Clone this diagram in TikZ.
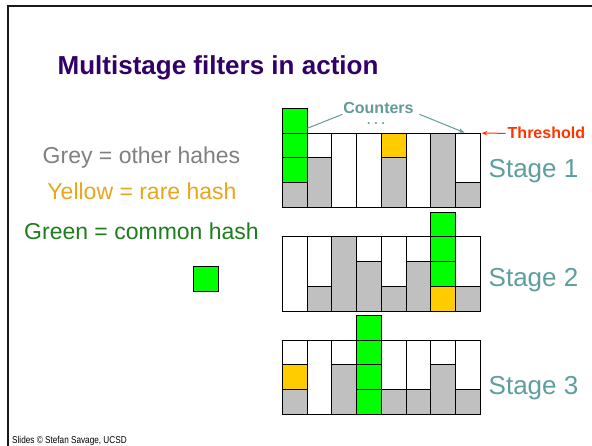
\documentclass[tikz,border=0pt]{standalone}
\usepackage{fontspec}
\setmainfont{Liberation Sans}
\usetikzlibrary{arrows.meta}

\definecolor{gr}{HTML}{C0C0C0}
\definecolor{ye}{HTML}{FFCC00}
\definecolor{gn}{HTML}{00FF00}
\definecolor{titlepurple}{HTML}{330066}
\definecolor{teal}{HTML}{669999}
\definecolor{stageteal}{HTML}{5F9E9E}
\definecolor{greytext}{HTML}{808080}
\definecolor{yellowtext}{HTML}{E9A51C}
\definecolor{greentext}{HTML}{1B7F1B}
\definecolor{thresholdred}{HTML}{FF3300}

% one filter stage: #1 = y of the bottom edge, #2 = column/segment list
% each segment is colour/start level/height, one level = 24.7
\newcommand\drawfilterstage[2]{%
  \foreach \c in {0,...,7}
    \draw[cellline, fill=white] ({282.5+24.7*\c},#1) rectangle ++(24.7,-74.1);
  \foreach \c/\s in {#2}{
    \foreach \k/\b/\h in \s
      \draw[cellline, fill=\k] ({282.5+24.7*\c},{#1-24.7*\b}) rectangle ++(24.7,{-24.7*\h});
  }
}

\begin{document}
\begin{tikzpicture}[x=1pt,y=-1pt,
  cellline/.style={draw=black, line width=0.9pt},
  frameline/.style={line width=2.3pt, draw=black!90},
  legend/.style={font=\fontsize{23}{26}\selectfont, anchor=base},
  stagelabel/.style={font=\fontsize{26}{30}\selectfont, text=stageteal, anchor=base west, inner sep=0pt},
  pointer/.style={draw=teal, line width=1pt}]

\useasboundingbox (0,0) rectangle (592,446);
\fill[white] (0,0) rectangle (592,446);

% slide frame
\draw[frameline] (592,6) -- (8,6) -- (8,446);

% title
\node[anchor=base west, inner sep=0pt, text=titlepurple,
      font=\fontsize{26}{30}\selectfont\bfseries] (title) at (57.5,75) {Multistage filters in action};

% legend
\node[legend, text=greytext]   (greykey)   at (141.5,164)   {Grey = other hahes};
\node[legend, text=yellowtext] (yellowkey) at (142,199.3)   {Yellow = rare hash};
\node[legend, text=greentext]  (greenkey)  at (141.5,239.3) {Green = common hash};
\node[draw=black, line width=0.9pt, fill=gn, minimum width=25pt, minimum height=24.5pt,
      inner sep=0pt] (packet) at (206,279.2) {};

% the three stages of counters
\drawfilterstage{207.3}{0/{gr/0/1,gn/1/1,gn/2/1,gn/3/1},1/{gr/0/2},4/{gr/0/2,ye/2/1},6/{gr/0/3},7/{gr/0/1}}
\drawfilterstage{311}{1/{gr/0/1},2/{gr/0/3},3/{gr/0/2},4/{gr/0/1},5/{gr/0/2},6/{ye/0/1,gn/1/1,gn/2/1,gn/3/1},7/{gr/0/1}}
\drawfilterstage{414.3}{0/{gr/0/1,ye/1/1},2/{gr/0/2},3/{gn/0/1,gn/1/1,gn/2/1,gn/3/1},4/{gr/0/1},5/{gr/0/1},6/{gr/0/2},7/{gr/0/1}}

% stage labels
\node[stagelabel] (stage1) at (488.5,177.3) {Stage 1};
\node[stagelabel] (stage2) at (488.5,286.7) {Stage 2};
\node[stagelabel] (stage3) at (488.5,395)   {Stage 3};

% counters callout
\node[anchor=base, inner sep=0pt, text=teal, font=\fontsize{16}{18}\selectfont\bfseries]
  (counters) at (378.5,113.3) {Counters};
\node[anchor=base, inner sep=0pt, text=teal, font=\fontsize{12}{14}\selectfont\bfseries]
  (dots) at (376,125) {.\,\,.\,\,.};
\coordinate (firstcol) at (307.3,128.3);
\coordinate (lastcol)  at (464.5,132.6);
\draw[pointer] ([shift={(-36pt,-1pt)}]counters.base) -- (firstcol);
\draw[pointer, -{Stealth[length=6pt,width=4.5pt]}] ([shift={(41pt,-1pt)}]counters.base) -- (lastcol);

% threshold marker
\node[anchor=base west, inner sep=0pt, text=thresholdred, font=\fontsize{16}{18}\selectfont\bfseries]
  (threshold) at (507.5,139) {Threshold};
\coordinate (thr) at (481.5,133.2);
\draw[draw=thresholdred, line width=1pt, -{Stealth[length=6pt,width=4.5pt]}]
  ([xshift=-2pt]threshold.west) -- (thr);

% footer
\node[anchor=base west, inner sep=0pt, font=\fontsize{10}{11}\selectfont] (credit)
  at (12,443.5) {\scalebox{0.82}[1]{Slides © Stefan Savage, UCSD}};
\end{tikzpicture}
\end{document}
